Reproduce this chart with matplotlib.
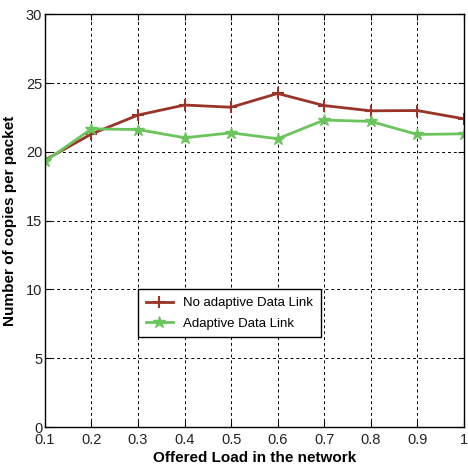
import matplotlib.pyplot as plt
import numpy as np

plt.rcParams['font.family'] = ['Liberation Sans', 'DejaVu Sans']

load = [0.1, 0.2, 0.3, 0.4, 0.5, 0.6, 0.7, 0.8, 0.9, 1.0]
no_adaptive = [19.4, 21.3, 22.67, 23.4, 23.24, 24.24, 23.36, 22.98, 23.0, 22.4]
adaptive = [19.3, 21.67, 21.62, 21.02, 21.38, 20.95, 22.31, 22.21, 21.26, 21.31]

fig = plt.figure(figsize=(4.68, 4.73), dpi=100)
ax = fig.add_axes([0.096, 0.097, 0.895, 0.873])

ax.plot(load, no_adaptive, color='#9a3328', lw=2, marker='+', ms=9, mew=1.5,
        label='No adaptive Data Link')
ax.plot(load, adaptive, color='#6cc45c', lw=2, marker='*', ms=9,
        label='Adaptive Data Link')

ax.set_xlim(0.1, 1.0)
ax.set_ylim(0, 30)
ax.set_xticks(np.arange(0.1, 1.01, 0.1))
ax.set_xticklabels(['0.1', '0.2', '0.3', '0.4', '0.5', '0.6', '0.7', '0.8', '0.9', '1'])
ax.set_yticks(range(0, 31, 5))
ax.tick_params(direction='in', top=True, right=True, labelsize=10.5, length=4,
               labelcolor='#222222', pad=2)
ax.tick_params(axis='x', pad=4)
ax.grid(True, color='black', linestyle=(0, (3, 3)), linewidth=0.7)
for s in ax.spines.values():
    s.set_linewidth(1.0)

ax.set_xlabel('Offered Load in the network', fontsize=11, fontweight='bold', labelpad=3)
ax.set_ylabel('Number of copies per packet', fontsize=11, fontweight='bold', labelpad=6)

leg = ax.legend(loc='upper left', bbox_to_anchor=(0.223, 0.334), fontsize=9.5,
                fancybox=False, framealpha=1, edgecolor='black',
                borderaxespad=0, handlelength=2.0, labelspacing=0.6,
                borderpad=0.6)
leg.get_frame().set_linewidth(1.0)

fig.savefig('out.png', dpi=100)
